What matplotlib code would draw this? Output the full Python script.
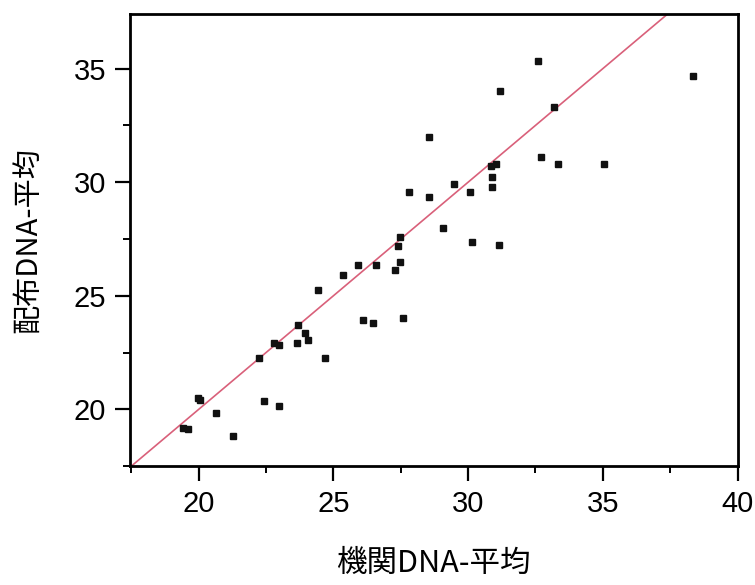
import numpy as np
import matplotlib
matplotlib.use("Agg")
import matplotlib.pyplot as plt
from matplotlib.ticker import MultipleLocator

# 機関DNA-平均 (x) / 配布DNA-平均 (y)
x_vals = [28.54, 27.80, 28.54, 27.49, 32.61, 38.35, 31.18, 33.17, 32.70, 33.35,
          35.04, 30.84, 31.02, 30.89, 30.90, 29.47, 30.06, 29.08, 30.13, 31.15,
          27.40, 27.49, 27.30, 26.58, 25.92, 25.35, 24.42, 26.09, 26.46, 27.59,
          23.67, 23.93, 24.05, 23.65, 22.81, 23.00, 22.25, 24.70, 19.99, 20.06,
          22.41, 22.99, 20.64, 19.41, 19.60, 21.29]
y_vals = [32.00, 29.57, 29.33, 27.59, 35.34, 34.67, 34.00, 33.33, 31.11, 30.79,
          30.79, 30.70, 30.79, 30.23, 29.79, 29.91, 29.57, 28.00, 27.38, 27.22,
          27.18, 26.48, 26.12, 26.37, 26.37, 25.93, 25.24, 23.92, 23.80, 24.02,
          23.70, 23.38, 23.04, 22.92, 22.94, 22.82, 22.26, 22.26, 20.50, 20.40,
          20.37, 20.15, 19.84, 19.19, 19.15, 18.82]
# reference line (y = x)
ref_x = [17.0, 40.0]
ref_y = [17.0, 40.0]

x_ticks = [20, 25, 30, 35, 40]
y_ticks = [20, 25, 30, 35]

plt.rcParams['font.family'] = ['Liberation Sans', 'Noto Sans CJK JP', 'DejaVu Sans']

fig = plt.figure(figsize=(7.55, 5.85), dpi=100)
ax = fig.add_axes([0.172, 0.203, 0.805, 0.773])

ax.plot(ref_x, ref_y, color='#d9607a', lw=1.2, zorder=2)
ax.plot(x_vals, y_vals, 's', color='#111111', markersize=5, zorder=3)

ax.set_xlim(17.45, 40)
ax.set_ylim(17.5, 37.4)
ax.set_xticks(x_ticks)
ax.set_yticks(y_ticks)
ax.xaxis.set_minor_locator(MultipleLocator(2.5))
ax.yaxis.set_minor_locator(MultipleLocator(2.5))
ax.tick_params(which='major', length=11, width=1.6, labelsize=21, pad=6)
ax.tick_params(which='minor', length=5, width=1.4)

for s in ax.spines.values():
    s.set_linewidth(2)

ax.set_xlabel('機関DNA-平均', fontsize=22, labelpad=22,
              family=['Noto Sans CJK JP', 'DejaVu Sans'])
ax.set_ylabel('配布DNA-平均', fontsize=21, labelpad=22,
              family=['Noto Sans CJK JP', 'DejaVu Sans'])

fig.savefig('out.png', dpi=100)
